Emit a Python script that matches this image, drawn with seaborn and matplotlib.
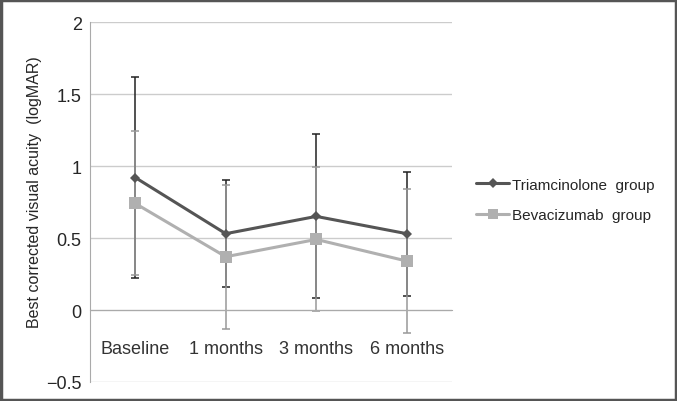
import seaborn as sns
import pandas as pd
import numpy as np
import matplotlib.pyplot as plt
from matplotlib.patches import Rectangle

# data
timepoints = ["Baseline", "1 months", "3 months", "6 months"]
triam_mean = [0.92, 0.53, 0.65, 0.53]
triam_sd = [0.70, 0.37, 0.57, 0.43]
beva_mean = [0.74, 0.37, 0.49, 0.34]
beva_sd = [0.50, 0.50, 0.50, 0.50]
groups = ["Triamcinolone  group", "Bevacizumab  group"]

sns.set_style("white")
plt.rcParams['font.family'] = ['Liberation Sans', 'DejaVu Sans']

df = pd.DataFrame({
    "pos": list(range(len(timepoints))) * 2,
    "value": triam_mean + beva_mean,
    "group": [groups[0]] * 4 + [groups[1]] * 4,
})

fig = plt.figure(figsize=(6.77, 4.02), dpi=100)
ax = fig.add_axes([90 / 677, 1 - 383 / 402, (452 - 90) / 677, (383 - 23) / 402])

# error bars first so lines sit on top
x = np.arange(len(timepoints))
ax.errorbar(x, triam_mean, yerr=triam_sd, fmt="none", ecolor="#222222",
            elinewidth=1.1, capsize=3, capthick=1.1, zorder=2)
ax.errorbar(x, beva_mean, yerr=beva_sd, fmt="none", ecolor="#999999",
            elinewidth=1.1, capsize=3, capthick=1.1, zorder=2)

sns.lineplot(data=df, x="pos", y="value", hue="group", style="group",
             palette=["#555555", "#b0b0b0"], markers=["D", "s"], dashes=False,
             markersize=5, linewidth=2.2, markeredgewidth=0, ax=ax, zorder=3)
for ln in ax.get_lines():
    if ln.get_marker() == "s":
        ln.set_markersize(9)

ax.set_xlim(-0.5, 3.5)
ax.set_ylim(-0.5, 2)
ax.set_yticks([-0.5, 0, 0.5, 1, 1.5, 2])
ax.set_yticklabels(["\u22120.5", "0", "0.5", "1", "1.5", "2"], fontsize=13)
ax.yaxis.grid(True, color="#cccccc", linewidth=1)
ax.set_axisbelow(True)

for s in ["top", "right"]:
    ax.spines[s].set_visible(False)
ax.spines["left"].set_color("#aaaaaa")
ax.spines["bottom"].set_position(("data", 0))
ax.spines["bottom"].set_color("#aaaaaa")

ax.set_xticks([])
ax.set_xticks([0.5, 1.5, 2.5, 3.5], minor=True)
ax.tick_params(axis="x", which="minor", length=4, color="#aaaaaa", direction="out")
ax.tick_params(axis="y", length=4, color="#aaaaaa", pad=2)
for i, t in enumerate(timepoints):
    ax.text(i, -0.27, t, ha="center", va="center", fontsize=13, color="#333333")

ax.set_xlabel("")
ax.set_ylabel("Best corrected visual acuity  (logMAR)", fontsize=11.5, va="center")
ax.yaxis.set_label_coords(-0.152, 0.53)

handles, labels = ax.get_legend_handles_labels()
for h in handles:
    if h.get_marker() == "s":
        h.set_markersize(7)
ax.legend(handles, labels, loc="center left", bbox_to_anchor=(462 / 677, 1 - 201 / 402),
          bbox_transform=fig.transFigure, frameon=False, fontsize=11,
          handlelength=2.2, handletextpad=0.2, labelspacing=1.1)

fig.patches.append(Rectangle((0.002, 0.003), 0.996, 0.994, transform=fig.transFigure,
                             fill=False, edgecolor="#555555", linewidth=2.5))

fig.savefig("out.png", dpi=100)
